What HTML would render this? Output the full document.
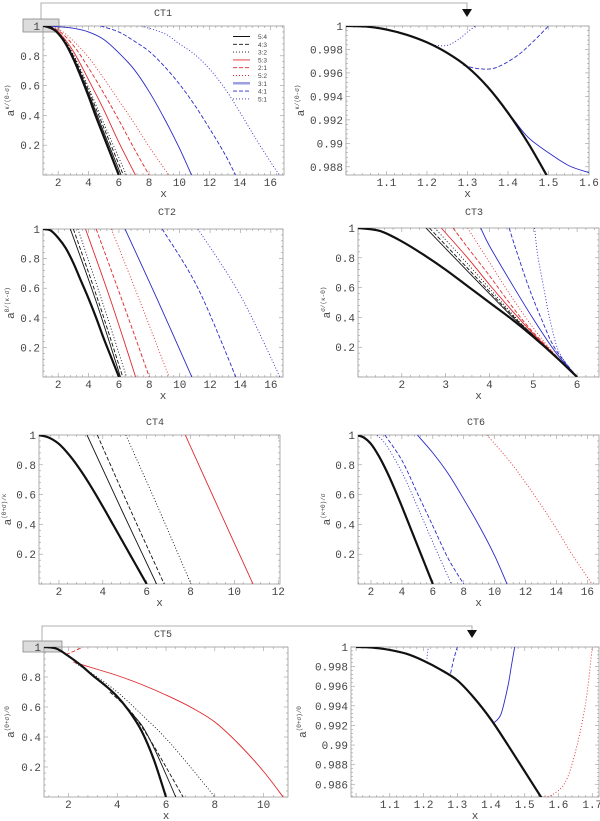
<!DOCTYPE html>
<html><head><meta charset="utf-8">
<style>
html,body{margin:0;padding:0;background:#fff;}
svg{display:block;}
text{font-family:"Liberation Mono","DejaVu Sans Mono",monospace;fill:#444;}
</style></head>
<body>
<svg id="fig" width="600" height="821" viewBox="0 0 600 821" xmlns="http://www.w3.org/2000/svg">
  <g>
    <rect x="23" y="19" width="36" height="13" fill="#dcdcdc" stroke="#888" stroke-width="0.8"/>
    <polyline points="41,19 41,3 467,3 467,10" fill="none" stroke="#999" stroke-width="0.8"/>
    <polygon points="462,9 472,9 467,17" fill="#111"/>
  </g>
  <g>
    <rect x="23" y="641" width="39" height="11" fill="#dcdcdc" stroke="#888" stroke-width="0.8"/>
    <polyline points="42,641 42,626 472,626 472,631" fill="none" stroke="#999" stroke-width="0.8"/>
    <polygon points="467,630 477,630 472,638" fill="#111"/>
  </g>
</svg>
<script>
// ---------- data (x, y pairs) ----------
// CT1
const ct1_ref = [[1,1],[1.5,0.99],[2,0.95],[2.5,0.88],[3,0.78],[3.5,0.66],[4,0.53],[4.5,0.39],[5,0.26],[5.5,0.13],[6,0]];
const ct1_54 = [[1,1],[2,0.95],[3,0.79],[4,0.55],[5,0.29],[6.15,0]];
const ct1_43 = [[1,1],[2,0.96],[3,0.8],[4,0.57],[5,0.32],[6.3,0]];
const ct1_32 = [[1,1],[2,0.96],[3,0.81],[4,0.59],[5,0.35],[6.5,0]];
const ct1_53 = [[1,1],[2,0.96],[3,0.83],[4,0.64],[5,0.44],[6,0.22],[7.1,0]];
const ct1_21 = [[1,1],[2,0.97],[3,0.87],[4,0.72],[5,0.55],[6,0.37],[7,0.18],[8,0]];
const ct1_52 = [[1,1],[2,0.98],[3,0.9],[4,0.79],[5,0.65],[6,0.5],[7,0.35],[8,0.19],[9.3,0]];
const ct1_31 = [[1,1],[2,0.995],[3,0.985],[4,0.96],[5,0.91],[6,0.82],[7,0.71],[8,0.56],[9,0.38],[10,0.18],[10.8,0]];
const ct1_41 = [[4.8,1],[6,0.96],[7,0.9],[8,0.83],[9,0.73],[10,0.61],[11,0.47],[12,0.31],[13,0.14],[13.7,0]];
const ct1_51 = [[7.5,1],[9,0.95],[10,0.88],[11,0.81],[12,0.71],[13,0.58],[14,0.42],[15,0.25],[16,0.09],[16.6,0]];
const legendLabels = ["5:4","4:3","3:2","5:3","2:1","5:2","3:1","4:1","5:1"];
// CT1 zoom
const z1_ref = [[1,1],[1.05,0.99995],[1.1,0.9997],[1.15,0.99925],[1.2,0.9986],[1.25,0.9977],[1.3,0.9965],[1.35,0.9948],[1.4,0.9926],[1.45,0.99],[1.5,0.987]];
const z1_31 = [[1.41,0.9922],[1.45,0.9905],[1.5,0.9892],[1.55,0.9881],[1.6,0.9875]];
const z1_41 = [[1.29,0.99665],[1.33,0.99635],[1.37,0.99645],[1.42,0.9974],[1.46,0.9986],[1.5,1]];
const z1_51 = [[1.22,0.99835],[1.25,0.99835],[1.28,0.9989],[1.3,0.9995],[1.32,1]];
// CT2
const ct2_ref = [[1,1],[1.5,0.99],[2,0.94],[2.5,0.87],[3,0.77],[3.5,0.65],[4,0.53],[4.5,0.4],[5,0.26],[5.5,0.13],[6,0]];
const ct2_54 = [[2.8,1],[4.5,0.51],[6.1,0]];
const ct2_43 = [[3.0,1],[4.65,0.51],[6.25,0]];
const ct2_32 = [[3.3,1],[4.9,0.51],[6.5,0]];
const ct2_53 = [[3.8,1],[5.45,0.52],[7.1,0]];
const ct2_21 = [[4.5,1],[6.2,0.52],[8.0,0]];
const ct2_52 = [[5.5,1],[7.35,0.52],[9.3,0]];
const ct2_31 = [[6.4,1],[8.5,0.53],[10.8,0]];
const ct2_41 = [[8.85,1],[11.2,0.6],[13.7,0]];
const ct2_51 = [[11.2,1],[14.0,0.55],[16.6,0]];
// CT3
const ct3_ref = [[1,1],[1.5,0.98],[2,0.91],[2.5,0.82],[3,0.72],[3.5,0.61],[4,0.5],[4.5,0.39],[5,0.27],[5.5,0.14],[6,0]];
const ct3_54 = [[2.55,1],[3.5,0.71],[4.5,0.41],[5,0.28],[6,0]];
const ct3_43 = [[2.63,1],[3.5,0.73],[4.5,0.42],[5,0.28],[6,0]];
const ct3_32 = [[2.75,1],[3.5,0.76],[4.5,0.43],[5,0.28],[6,0]];
const ct3_53 = [[2.9,1],[3.5,0.8],[4,0.62],[4.5,0.45],[5,0.29],[6,0]];
const ct3_21 = [[3.17,1],[3.5,0.87],[4,0.68],[4.5,0.48],[5,0.3],[6,0]];
const ct3_52 = [[3.5,1],[4,0.77],[4.5,0.54],[5,0.33],[5.5,0.15],[6,0]];
const ct3_31 = [[3.8,1],[4,0.88],[4.5,0.63],[5,0.39],[5.5,0.17],[6,0]];
const ct3_41 = [[4.45,1],[4.6,0.86],[4.9,0.6],[5.2,0.38],[5.5,0.19],[6,0]];
const ct3_51 = [[5.03,1],[5.1,0.82],[5.25,0.58],[5.4,0.36],[5.6,0.16],[6,0]];
// CT4
const ct4_ref = [[1,1],[1.5,0.985],[2,0.94],[2.5,0.86],[3,0.76],[3.5,0.645],[4,0.52],[4.5,0.39],[5,0.26],[5.5,0.13],[6,0]];
const ct4_a = [[3.28,1],[4.85,0.5],[6.45,0]];
const ct4_b = [[3.75,1],[5.25,0.5],[6.8,0]];
const ct4_c = [[5.05,1],[6.5,0.52],[8.02,0]];
const ct4_d = [[7.76,1],[9.3,0.5],[10.85,0]];
// CT6
const ct6_ref = [[1,1],[1.5,0.985],[2,0.94],[2.5,0.86],[3,0.76],[3.5,0.645],[4,0.52],[4.5,0.39],[5,0.26],[5.5,0.13],[6,0]];
const ct6_a = [[2.4,1],[3,0.93],[4,0.75],[5,0.52],[6,0.28],[7.2,0]];
const ct6_b = [[2.9,1],[4,0.83],[5,0.61],[6,0.39],[7,0.17],[8,0]];
const ct6_c = [[5,1],[6,0.88],[7,0.74],[8,0.57],[9,0.39],[10,0.19],[10.8,0]];
const ct6_d = [[9.5,1],[11,0.82],[12,0.68],[13,0.53],[14,0.37],[15,0.2],[16.3,0]];
// CT5
const ct5_ref = [[1,1],[1.5,0.99],[2,0.94],[2.5,0.88],[3,0.81],[3.5,0.745],[4,0.67],[4.5,0.57],[5,0.44],[5.5,0.25],[6,0]];
const ct5_a = [[4.4,0.59],[5,0.48],[5.5,0.33],[6,0.15],[6.4,0]];
const ct5_b = [[3.7,0.7],[4.5,0.58],[5,0.47],[5.5,0.34],[6,0.2],[6.7,0]];
const ct5_c = [[2.3,0.89],[3,0.82],[4,0.7],[5,0.55],[6,0.39],[7,0.2],[8,0]];
const ct5_d = [[2.2,0.9],[3,0.86],[4,0.81],[5,0.75],[6,0.68],[7,0.6],[8,0.5],[9,0.35],[10,0.17],[10.8,0]];
const ct5_e = [[1.9,0.95],[2.2,0.97],[2.6,1]];
// CT5 zoom
const z5_ref = [[1,1],[1.05,0.99993],[1.1,0.9997],[1.15,0.9993],[1.2,0.9986],[1.25,0.9977],[1.3,0.9966],[1.35,0.9948],[1.4,0.9926],[1.45,0.99],[1.5,0.9873],[1.55,0.9846]];
const z5_31 = [[1.41,0.9923],[1.43,0.9932],[1.45,0.996],[1.46,0.998],[1.47,1]];
const z5_41 = [[1.28,0.9973],[1.29,0.9988],[1.3,1]];
const z5_51 = [[1.21,0.9988],[1.212,0.9995],[1.215,1]];
const z5_52 = [[1.55,0.9847],[1.58,0.9849],[1.62,0.9862],[1.65,0.9893],[1.68,0.9942],[1.7,1]];
// tick label arrays
const ticksCT1x = [2,4,6,8,10,12,14,16];
const ticksUnitY = [0.2,0.4,0.6,0.8,1];
const ticksZ1x = [1.1,1.2,1.3,1.4,1.5,1.6];
const ticksZ1y = [0.988,0.99,0.992,0.994,0.996,0.998,1];
const ticksCT3x = [2,3,4,5,6];
const ticksCT4x = [2,4,6,8,10,12];
const ticksCT5x = [2,4,6,8,10];
const ticksZ5x = [1.1,1.2,1.3,1.4,1.5,1.6,1.7];
const ticksZ5y = [0.986,0.988,0.99,0.992,0.994,0.996,0.998,1];

// ---------- styles ----------
const BLK='#111', RED='#e0282c', BLU='#2a2ac8';
const ST = {
  ref:{c:BLK,w:2.2,d:null}, bs:{c:BLK,w:0.9,d:null}, bd:{c:BLK,w:0.9,d:'4,2'}, bo:{c:BLK,w:0.9,d:'1,2'},
  rs:{c:RED,w:0.9,d:null}, rd:{c:RED,w:0.9,d:'4,2'}, ro:{c:RED,w:0.9,d:'1,2'},
  us:{c:BLU,w:0.9,d:null}, ud:{c:BLU,w:0.9,d:'4,2'}, uo:{c:BLU,w:0.9,d:'1,2'}
};
const NS='http://www.w3.org/2000/svg';
const svg=document.getElementById('fig');
function mk(tag,attrs,parent){const e=document.createElementNS(NS,tag);for(const k in attrs)e.setAttribute(k,attrs[k]);(parent||svg).appendChild(e);return e;}
function fmt(v){return String(+v.toFixed(4));}

function smoothPath(pts){
  if(pts.length<3){return 'M'+pts.map(p=>p[0].toFixed(2)+','+p[1].toFixed(2)).join(' L');}
  let d='M'+pts[0][0].toFixed(2)+','+pts[0][1].toFixed(2);
  for(let i=0;i<pts.length-1;i++){
    const p0=pts[i-1]||pts[i],p1=pts[i],p2=pts[i+1],p3=pts[i+2]||pts[i+1];
    const c1=[p1[0]+(p2[0]-p0[0])/6,p1[1]+(p2[1]-p0[1])/6];
    const c2=[p2[0]-(p3[0]-p1[0])/6,p2[1]-(p3[1]-p1[1])/6];
    d+=' C'+c1[0].toFixed(2)+','+c1[1].toFixed(2)+' '+c2[0].toFixed(2)+','+c2[1].toFixed(2)+' '+p2[0].toFixed(2)+','+p2[1].toFixed(2);
  }
  return d;
}

function panel(cfg){
  const g=mk('g',{});
  
  
  const L=cfg.box[0],T=cfg.box[1],R=cfg.box[2],B=cfg.box[3];
  const sx=v=>L+(v-cfg.x0)/(cfg.x1-cfg.x0)*(R-L);
  const sy=v=>B-(v-cfg.y0)/(cfg.y1-cfg.y0)*(B-T);
  const clip='clip-'+cfg.name;
  const cp=mk('clipPath',{id:clip},g);
  mk('rect',{x:L,y:T,width:R-L,height:B-T},cp);
  const fr=mk('rect',{x:L,y:T,width:R-L,height:B-T,fill:'none',stroke:'#999','stroke-width':0.8},g);
  
  
  const xs=cfg.xt, ys=cfg.yt;
  const xstep=xs[1]-xs[0], ystep=ys[1]-ys[0];
  for(let v=xs[0]-xstep;v<=cfg.x1+1e-9;v+=xstep/5){
    if(v<cfg.x0-1e-9)continue;
    const X=sx(v);const major=Math.abs(((v-xs[0])/xstep)-Math.round((v-xs[0])/xstep))<1e-6;
    const len=major?4:2;
    mk('line',{x1:X,y1:B,x2:X,y2:B-len,stroke:'#999','stroke-width':0.6},g);
    mk('line',{x1:X,y1:T,x2:X,y2:T+len,stroke:'#999','stroke-width':0.6},g);
  }
  for(let v=ys[0]-ystep;v<=cfg.y1+1e-9;v+=ystep/5){
    if(v<cfg.y0-1e-9)continue;
    const Y=sy(v);const major=Math.abs(((v-ys[0])/ystep)-Math.round((v-ys[0])/ystep))<1e-6;
    const len=major?4:2;
    mk('line',{x1:L,y1:Y,x2:L+len,y2:Y,stroke:'#999','stroke-width':0.6},g);
    mk('line',{x1:R,y1:Y,x2:R-len,y2:Y,stroke:'#999','stroke-width':0.6},g);
  }
  xs.forEach(v=>{
    const t=mk('text',{x:sx(v),y:B+11,'font-size':11,'text-anchor':'middle'},g);
    t.textContent=fmt(v);
    
    
  });
  ys.forEach(v=>{
    const t=mk('text',{x:L-3,y:sy(v)+4,'font-size':11,'text-anchor':'end'},g);
    t.textContent=fmt(v);
    
    
  });
  const xl=mk('text',{x:(L+R)/2,y:B+22,'font-size':11,'text-anchor':'middle'},g);
  xl.textContent='x';
  
  
  const yl=mk('text',{x:0,y:0,'font-size':11,'text-anchor':'middle',transform:'translate('+cfg.ylx+','+(T+B)/2+') rotate(-90)'},g);
  yl.innerHTML='a<tspan font-size="6" dy="-5">'+cfg.yexp+'</tspan>';
  
  
  if(cfg.title){
    const tt=mk('text',{x:cfg.title[1],y:cfg.title[2],'font-size':10,'text-anchor':'middle'},g);
    tt.textContent=cfg.title[0];
    
    
  }
  const sg=mk('g',{'clip-path':'url(#'+clip+')'},g);
  cfg.series.forEach(s=>{
    const st=ST[s[1]];
    const p=mk('path',{d:smoothPath(s[0].map(q=>[sx(q[0]),sy(q[1])])),fill:'none',stroke:st.c,'stroke-width':st.w},sg);
    if(st.d)p.setAttribute('stroke-dasharray',st.d);
    
    
  });
  return g;
}

panel({name:'ct1-panel',box:[43,26,284,175],x0:1,x1:16.9,y0:0,y1:1,xt:ticksCT1x,yt:ticksUnitY,ylx:14,yexp:'κ/(Θ-σ)',title:['CT1',163,16],
  series:[[ct1_54,'bs','series-5-4'],[ct1_43,'bd','series-4-3'],[ct1_32,'bo','series-3-2'],[ct1_53,'rs','series-5-3'],[ct1_21,'rd','series-2-1'],[ct1_52,'ro','series-5-2'],[ct1_31,'us','series-3-1'],[ct1_41,'ud','series-4-1'],[ct1_51,'uo','series-5-1'],[ct1_ref,'ref','reference-curve']]});
(function(){
  const lg=mk('g',{});
  
  
  const keys=['bs','bd','bo','rs','rd','ro','us','ud','uo'];
  legendLabels.forEach((lab,i)=>{
    const y=36.5+i*7.8;const st=ST[keys[i]];
    const ln=mk('line',{x1:233,y1:y,x2:250,y2:y,stroke:st.c,'stroke-width':i==6?2.5:0.9},lg);
    if(i==6)ln.setAttribute('stroke','#9aa0e0');
    if(st.d)ln.setAttribute('stroke-dasharray',st.d);
    
    
    const t=mk('text',{x:258,y:y+2.5,'font-size':6.5,style:'font-family:"Liberation Sans",sans-serif'},lg);
    t.textContent=lab;
    
    
  });
})();
panel({name:'ct1-zoom-panel',box:[346,26,589,175],x0:1,x1:1.6,y0:0.9873,y1:1,xt:ticksZ1x,yt:ticksZ1y,ylx:304,yexp:'κ/(Θ-σ)',
  series:[[z1_31,'us','zoom-3-1'],[z1_41,'ud','zoom-4-1'],[z1_51,'uo','zoom-5-1'],[z1_ref,'ref','zoom-reference']]});
panel({name:'ct2-panel',box:[43,229,283,377],x0:1,x1:16.8,y0:0,y1:1,xt:ticksCT1x,yt:ticksUnitY,ylx:14,yexp:'Θ/(κ-σ)',title:['CT2',167,215],
  series:[[ct2_54,'bs','series-5-4'],[ct2_43,'bd','series-4-3'],[ct2_32,'bo','series-3-2'],[ct2_53,'rs','series-5-3'],[ct2_21,'rd','series-2-1'],[ct2_52,'ro','series-5-2'],[ct2_31,'us','series-3-1'],[ct2_41,'ud','series-4-1'],[ct2_51,'uo','series-5-1'],[ct2_ref,'ref','reference-curve']]});
panel({name:'ct3-panel',box:[358,228,599,377],x0:1,x1:6.5,y0:0,y1:1,xt:ticksCT3x,yt:ticksUnitY,ylx:330,yexp:'σ/(κ-Θ)',title:['CT3',474,215],
  series:[[ct3_54,'bs','series-5-4'],[ct3_43,'bd','series-4-3'],[ct3_32,'bo','series-3-2'],[ct3_53,'rs','series-5-3'],[ct3_21,'rd','series-2-1'],[ct3_52,'ro','series-5-2'],[ct3_31,'us','series-3-1'],[ct3_41,'ud','series-4-1'],[ct3_51,'uo','series-5-1'],[ct3_ref,'ref','reference-curve']]});
panel({name:'ct4-panel',box:[39,435,280,584],x0:1.09,x1:12.08,y0:0,y1:1,xt:ticksCT4x,yt:ticksUnitY,ylx:11,yexp:'(Θ+σ)/κ',title:['CT4',155,425],
  series:[[ct4_a,'bs','series-a'],[ct4_b,'bd','series-b'],[ct4_c,'bo','series-c'],[ct4_d,'rs','series-d'],[ct4_ref,'ref','reference-curve']]});
panel({name:'ct6-panel',box:[358,435,599,584],x0:1.16,x1:16.75,y0:0,y1:1,xt:ticksCT1x,yt:ticksUnitY,ylx:330,yexp:'(κ+Θ)/σ',title:['CT6',476,425],
  series:[[ct6_a,'uo','series-a'],[ct6_b,'ud','series-b'],[ct6_c,'us','series-c'],[ct6_d,'ro','series-d'],[ct6_ref,'ref','reference-curve']]});
panel({name:'ct5-panel',box:[44,647,288,797],x0:1,x1:11,y0:0,y1:1,xt:ticksCT5x,yt:ticksUnitY,ylx:14,yexp:'(Θ+σ)/Θ',title:['CT5',163,637],
  series:[[ct5_a,'bs','series-a'],[ct5_b,'bd','series-b'],[ct5_c,'bo','series-c'],[ct5_d,'rs','series-d'],[ct5_e,'rd','series-e'],[ct5_ref,'ref','reference-curve']]});
panel({name:'ct5-zoom-panel',box:[351,647,599,797],x0:0.985,x1:1.72,y0:0.9847,y1:1,xt:ticksZ5x,yt:ticksZ5y,ylx:306,yexp:'(Θ+σ)/Θ',
  series:[[z5_31,'us','zoom-3-1'],[z5_41,'ud','zoom-4-1'],[z5_51,'uo','zoom-5-1'],[z5_52,'ro','zoom-5-2'],[z5_ref,'ref','zoom-reference']]});
</script>
</body></html>
